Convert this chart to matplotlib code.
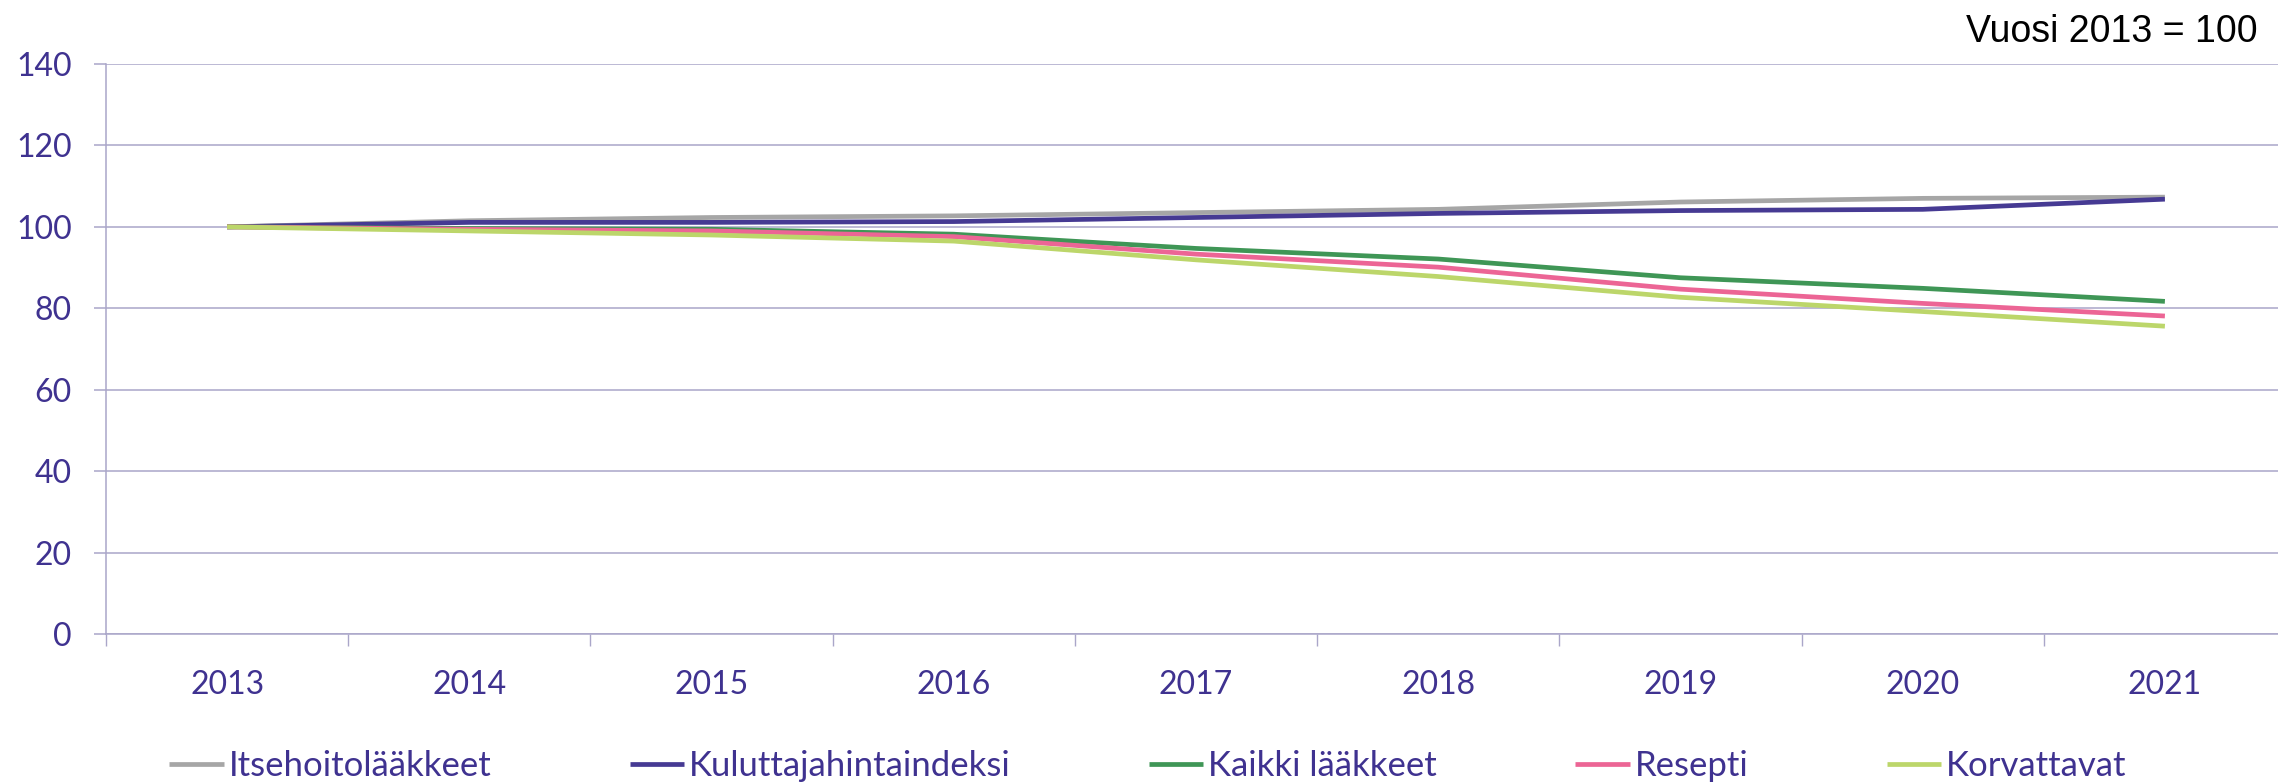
import numpy as np
import matplotlib.pyplot as plt

years = ['2013', '2014', '2015', '2016', '2017', '2018', '2019', '2020', '2021']

# Indeksi, vuosi 2013 = 100 (luettu kuvasta)
itsehoito = [100, 101.5, 102.3, 102.7, 103.5, 104.3, 106.1, 107.0, 107.3]
kuluttajahinta = [100, 101.1, 101.1, 101.3, 102.3, 103.3, 104.0, 104.3, 106.8]
kaikki = [100, 99.6, 99.4, 98.2, 94.7, 92.1, 87.5, 84.9, 81.7]
resepti = [100, 99.4, 99.0, 97.6, 93.3, 90.1, 84.7, 81.2, 78.1]
korvattavat = [100, 99.0, 98.0, 96.5, 91.9, 87.8, 82.7, 79.2, 75.6]

labels = ['Itsehoitolääkkeet', 'Kuluttajahintaindeksi', 'Kaikki lääkkeet', 'Resepti', 'Korvattavat']
colors = ['#a6a6a6', '#463a93', '#3f9656', '#ec6595', '#bcd66a']

TEXT = '#3f3290'
GRID = '#aaa6c9'

plt.rcParams['font.family'] = ['Lato', 'DejaVu Sans']

fig = plt.figure(figsize=(22.78, 7.83), dpi=100)
ax = fig.add_axes([106 / 2278, 149 / 783, 2180 / 2278, 570 / 783])

x = np.arange(len(years))
series = [itsehoito, kuluttajahinta, kaikki, resepti, korvattavat]
lines = []
for s, lab, c in zip(series, labels, colors):
    ln, = ax.plot(x, s, color=c, lw=3.4, label=lab, solid_capstyle='butt')
    lines.append(ln)

ax.set_xlim(-0.5, 8.5)
ax.set_ylim(0, 140)
ax.set_yticks(range(0, 141, 20))
ax.yaxis.grid(True, color=GRID, lw=1.1)
ax.set_axisbelow(True)

ax.set_xticks(x)
ax.set_xticklabels(years)
ax.set_xticks(np.arange(-0.5, 9, 1), minor=True)
ax.tick_params(axis='x', which='major', length=0, pad=26, labelsize=23, labelcolor=TEXT)
ax.tick_params(axis='x', which='minor', length=8.6, width=1, color=GRID)
ax.tick_params(axis='y', length=8.6, width=1.1, color=GRID, pad=16, labelsize=23, labelcolor=TEXT)

for side in ['top', 'right']:
    ax.spines[side].set_visible(False)
for side in ['left', 'bottom']:
    ax.spines[side].set_color(GRID)
    ax.spines[side].set_linewidth(1.1)

fig.text(2258 / 2278, 1 - 42 / 783, 'Vuosi 2013 = 100', ha='right', va='baseline',
         fontsize=27, family='Liberation Sans', color='black')

leg = fig.legend(lines, labels, loc='center', bbox_to_anchor=(1148 / 2278, 17 / 783), ncol=5,
                 frameon=False, fontsize=25, handlelength=1.56, handletextpad=0.15,
                 columnspacing=3.98, borderaxespad=0, borderpad=0)
for t in leg.get_texts():
    t.set_color(TEXT)

fig.savefig('out.png', dpi=100)
